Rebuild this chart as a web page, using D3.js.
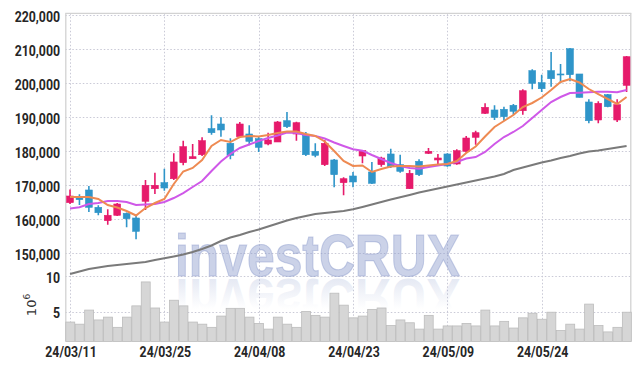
<!DOCTYPE html>
<html>
<head>
<meta charset="utf-8">
<script src="https://cdn.jsdelivr.net/npm/d3@7"></script>
<style>
  body { margin: 0; background: #fff; }
</style>
</head>
<body>
<div id="chart"></div>
<script>
// trading days (KRX), 24/03/11 .. 24/06/07
const dates = [
  "2024-03-11","2024-03-12","2024-03-13","2024-03-14","2024-03-15",
  "2024-03-18","2024-03-19","2024-03-20","2024-03-21","2024-03-22",
  "2024-03-25","2024-03-26","2024-03-27","2024-03-28","2024-03-29",
  "2024-04-01","2024-04-02","2024-04-03","2024-04-04","2024-04-05",
  "2024-04-08","2024-04-09","2024-04-11","2024-04-12","2024-04-15",
  "2024-04-16","2024-04-17","2024-04-18","2024-04-19","2024-04-22",
  "2024-04-23","2024-04-24","2024-04-25","2024-04-26","2024-04-29",
  "2024-04-30","2024-05-02","2024-05-03","2024-05-07","2024-05-08",
  "2024-05-09","2024-05-10","2024-05-13","2024-05-14","2024-05-16",
  "2024-05-17","2024-05-20","2024-05-21","2024-05-22","2024-05-23",
  "2024-05-24","2024-05-27","2024-05-28","2024-05-29","2024-05-30",
  "2024-05-31","2024-06-03","2024-06-04","2024-06-05","2024-06-07"
];

const open = [
  164900,166360,168620,163530,159590,161180,161770,160380,165300,169000,
  170770,171940,176650,177820,179000,186650,188030,182350,184300,185090,
  183710,182150,182740,189000,185090,184710,180000,176060,177450,170770,
  172740,178620,173910,176060,179210,176060,169000,177060,179410,177450,
  179210,176270,180000,184120,191180,192150,192350,193530,191940,203710,
  200180,203710,202740,210180,202740,194500,189210,196650,189210,199410
];
const high = [
  168800,167360,169800,164120,162940,164800,162000,161180,171560,173710,
  174890,179410,183120,182150,184120,190590,190000,183820,188620,187650,
  184500,185470,188910,191560,188700,185680,182350,183330,177740,172350,
  173910,180390,176860,178410,180770,179000,174500,177650,180980,179210,
  179410,180590,184500,186060,194120,193530,193120,193910,198240,204120,
  202530,209210,205680,210390,202740,195300,194710,196850,195300,208030
];
const low = [
  164500,164210,162150,161180,158410,160960,157650,154120,162740,167440,
  168420,171560,175880,177820,178620,184880,184300,177650,183910,181770,
  179800,181770,182740,186850,183120,178620,178240,175680,169410,167060,
  169410,176470,170390,175470,175090,173710,168910,172740,179210,176060,
  175470,176060,179590,181940,190970,189210,189000,190770,190770,198240,
  197440,199000,200000,200590,195800,188240,188240,192940,188620,197440
];
const close = [
  166850,165770,163530,161940,161180,164500,160180,156470,170000,170000,
  169210,176860,181360,178410,183120,185470,186270,178820,188030,182940,
  181180,183330,188620,187240,188410,179000,178820,182350,173120,171940,
  170980,180180,170590,178030,175470,174120,173530,173120,180000,178030,
  175680,180180,183910,185470,192940,190000,190180,191770,197820,200000,
  198410,201350,202590,202530,195880,189000,194120,193120,193710,207820
];

// volume, millions of shares
const volume = [
  3.5,3.2,5.2,3.8,4.2,2.75,4.2,5.8,9.2,5.5,
  3.5,6.6,5.8,3.5,3.2,2.75,4.35,5.45,5.45,4.2,
  3.3,2.5,4.2,3.2,2.75,5.0,4.45,4.2,7.6,5.9,
  4.1,4.35,5.3,5.5,3.0,3.8,3.4,2.5,4.45,2.5,
  2.95,2.95,3.3,2.95,5.2,2.95,3.6,2.65,4.1,4.75,
  3.9,4.9,2.3,3.2,2.5,6.05,3.0,2.1,2.75,4.9
];

// moving averages as drawn
const maShort = [
  166560,166560,166560,165970,164210,163470,162440,161120,163320,164790,
  165970,170380,174060,175090,177440,181560,183320,182730,184200,184500,
  184350,184790,185380,185820,185820,185090,184500,182880,180090,177150,
  175680,175820,173910,174790,175530,175680,175680,175530,175820,176120,
  176260,177150,179500,181410,184350,187150,188910,190680,193030,194210,
  195820,198030,200380,201260,200240,198320,196850,195380,193910,195970
];
const maMid = [
  163180,163530,164500,164790,165380,165380,165090,164210,164350,164500,
  165090,166260,167730,169500,171260,174210,177000,179200,180970,182000,
  183030,183910,184650,185530,185380,184790,184500,183760,182590,181560,
  180590,180180,178910,177740,176560,175680,175090,174880,175380,175820,
  176260,176850,177880,178320,179800,182150,184200,185680,187440,189790,
  192150,194500,195970,197150,197240,197380,197530,197500,197350,198030
];
const maLong = [
  143910,144650,145380,145820,146260,146560,146850,147150,147440,148030,
  148530,149060,149650,150380,151260,152290,153620,154650,155380,156260,
  156990,157880,158760,159650,160380,160970,161560,161850,162150,162440,
  162940,163620,164350,165090,165820,166470,167150,167880,168470,169060,
  169650,170240,170820,171410,172000,172590,173320,174500,175240,175970,
  176710,177290,178030,178620,179350,179940,180240,180680,181120,181560
];

const priceTicks = [150000,160000,170000,180000,190000,200000,210000,220000];
const volumeTicks = [5, 10];
const dateTickEvery = 10;

const svgWidth = 639, svgHeight = 370;
const plotLeft = 65.3, plotRight = 631.3, plotTop = 13.3;
const priceTop = 15.3, priceGridBottom = 253.3, panelSplit = 276.3, volBottom = 341.5;

const labelFont = "Roboto, 'Liberation Sans', sans-serif";
const upColor = "#e61a6b", downColor = "#2f95c9";

const parse = d3.timeParse("%Y-%m-%d");
const fmtDate = d3.timeFormat("%y/%m/%d");

const svg = d3.select("#chart").append("svg")
  .attr("width", svgWidth).attr("height", svgHeight)
  .style("display", "block");

const x = d3.scaleBand().domain(dates).range([plotLeft, plotRight]).padding(0);
const xc = d => x(d) + x.bandwidth() / 2;
const yP = d3.scaleLinear().domain([150000, 220000]).range([priceGridBottom, priceTop]);
const yV = d3.scaleLinear().domain([0, 10]).range([346.7, panelSplit]);

const defs = svg.append("defs");
defs.append("clipPath").attr("id", "clipPrice")
  .append("rect").attr("x", plotLeft).attr("y", plotTop)
  .attr("width", plotRight - plotLeft).attr("height", panelSplit - plotTop);
const grad = defs.append("linearGradient").attr("id", "reflect")
  .attr("x1", 0).attr("y1", 1).attr("x2", 0).attr("y2", 0);
grad.append("stop").attr("offset", 0).attr("stop-color", "#8b9ccb").attr("stop-opacity", 0.32);
grad.append("stop").attr("offset", 0.65).attr("stop-color", "#8b9ccb").attr("stop-opacity", 0.0);

// grid
const grid = svg.append("g").attr("stroke", "#c9c9d6").attr("stroke-width", 1).attr("stroke-dasharray", "1.5,2");
grid.selectAll("line.h").data(priceTicks).join("line")
  .attr("x1", plotLeft).attr("x2", plotRight)
  .attr("y1", d => Math.round(yP(d)) + 0.5).attr("y2", d => Math.round(yP(d)) + 0.5);
grid.selectAll("line.v").data(volumeTicks).join("line")
  .attr("x1", plotLeft).attr("x2", plotRight)
  .attr("y1", d => Math.round(yV(d)) + 0.5).attr("y2", d => Math.round(yV(d)) + 0.5);
const tickDates = dates.filter((d, i) => i % dateTickEvery === 0);
grid.selectAll("line.d").data(tickDates).join("line")
  .attr("x1", d => Math.round(xc(d)) + 0.5).attr("x2", d => Math.round(xc(d)) + 0.5)
  .attr("y1", plotTop).attr("y2", volBottom);

// frame
const frame = svg.append("g").attr("stroke", "#d2d2d2").attr("stroke-width", 1.3).attr("fill", "none");
frame.append("line").attr("x1", plotLeft).attr("x2", plotRight).attr("y1", plotTop).attr("y2", plotTop);
frame.append("line").attr("x1", plotLeft + 0.5).attr("x2", plotLeft + 0.5).attr("y1", plotTop).attr("y2", volBottom);
frame.append("line").attr("x1", plotRight - 0.5).attr("x2", plotRight - 0.5).attr("y1", plotTop).attr("y2", volBottom);

// volume
svg.append("g").selectAll("rect").data(dates).join("rect")
  .attr("x", d => x(d) + 0.5)
  .attr("width", x.bandwidth() - 0.5)
  .attr("y", (d, i) => yV(volume[i]))
  .attr("height", (d, i) => volBottom - yV(volume[i]))
  .attr("fill", "#d6d6d6").attr("stroke", "#bcbcbc").attr("stroke-width", 0.8);

// watermark + reflection
const wm = svg.append("g").attr("font-family", "'Liberation Sans', Arial, sans-serif")
  .attr("font-weight", "bold").attr("font-size", 60);
wm.append("text").attr("x", 175).attr("y", 275.5).text("investCRUX")
  .attr("textLength", 285).attr("lengthAdjust", "spacingAndGlyphs")
  .attr("fill", "#8b9ccb").attr("fill-opacity", 0.45)
  .attr("stroke", "#8b9ccb").attr("stroke-opacity", 0.45).attr("stroke-width", 1.2);
wm.append("text").attr("x", 175).attr("y", 275.5).text("investCRUX")
  .attr("textLength", 285).attr("lengthAdjust", "spacingAndGlyphs")
  .attr("transform", "translate(0," + (2 * 277) + ") scale(1,-1)")
  .attr("fill", "url(#reflect)");

// price panel
const price = svg.append("g").attr("clip-path", "url(#clipPrice)");

const line = arr => d3.line().x((d, i) => xc(dates[i])).y(d => yP(d))(arr);
price.append("path").attr("d", line(maLong)).attr("fill", "none").attr("stroke", "#7a7a7a").attr("stroke-width", 2);

const bodyW = x.bandwidth() * 0.72;
const candles = price.append("g").selectAll("g").data(dates).join("g")
  .attr("fill", (d, i) => close[i] >= open[i] ? upColor : downColor)
  .attr("stroke", (d, i) => close[i] >= open[i] ? upColor : downColor);
candles.append("line")
  .attr("x1", d => xc(d)).attr("x2", d => xc(d))
  .attr("y1", (d, i) => yP(high[i])).attr("y2", (d, i) => yP(low[i]))
  .attr("stroke-width", 1.6);
candles.append("rect")
  .attr("x", d => xc(d) - bodyW / 2).attr("width", bodyW)
  .attr("y", (d, i) => yP(Math.max(open[i], close[i])))
  .attr("height", (d, i) => Math.max(1, Math.abs(yP(open[i]) - yP(close[i]))))
  .attr("stroke-width", 0.6);

price.append("path").attr("d", line(maMid)).attr("fill", "none").attr("stroke", "#cf58e8").attr("stroke-width", 2);
price.append("path").attr("d", line(maShort)).attr("fill", "none").attr("stroke", "#ee8a52").attr("stroke-width", 2);

// axis labels (condensed by squeezing the natural width)
const squeeze = (sel, k) => sel.each(function () {
  const w = this.getComputedTextLength();
  d3.select(this).attr("textLength", w * k).attr("lengthAdjust", "spacingAndGlyphs");
});
const labels = svg.append("g").attr("font-family", labelFont).attr("font-size", 15)
  .attr("font-weight", "bold").attr("fill", "#262626");
labels.selectAll("text.p").data(priceTicks).join("text")
  .attr("class", "p")
  .attr("x", 60).attr("y", d => yP(d) + 1.3).attr("dy", "0.35em")
  .attr("text-anchor", "end").text(d3.format(","))
  .call(squeeze, 0.82);
labels.selectAll("text.v").data(volumeTicks).join("text")
  .attr("class", "v")
  .attr("x", 60).attr("y", d => yV(d) + 1.6).attr("dy", "0.35em")
  .attr("text-anchor", "end").text(d => d)
  .call(squeeze, 0.82);
labels.selectAll("text.d").data(tickDates).join("text")
  .attr("class", "d")
  .attr("x", d => xc(d) + 1).attr("y", 357)
  .attr("text-anchor", "middle").text(d => fmtDate(parse(d)))
  .call(squeeze, 0.82);

// volume unit
const unit = svg.append("text")
  .attr("transform", "translate(36,305) rotate(-90)")
  .attr("font-family", "'DejaVu Sans', sans-serif").attr("font-size", 13).attr("fill", "#333")
  .attr("text-anchor", "middle");
unit.append("tspan").text("10");
unit.append("tspan").attr("dy", -6).attr("font-size", 9).text("6");
</script>
</body>
</html>
